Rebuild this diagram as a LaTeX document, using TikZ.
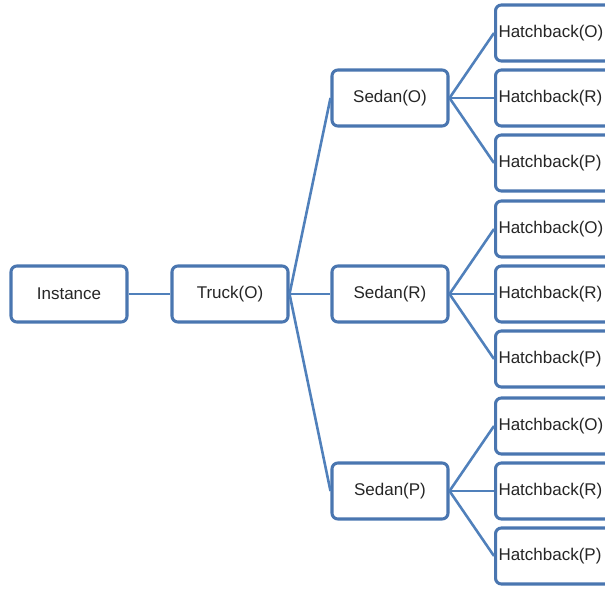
\documentclass[tikz,border=0pt]{standalone}
\usepackage{fontspec}
\setmainfont{Liberation Sans}
\definecolor{boxblue}{HTML}{4A76B0}
\definecolor{linkblue}{HTML}{5080BB}
\definecolor{txt}{HTML}{262626}
\tikzset{
  box/.style={draw=boxblue, line width=2.6pt, rounded corners=5pt, fill=white,
    minimum width=3.48cm, minimum height=1.68cm, text=txt,
    font=\fontsize{14.5}{17}\selectfont},
  hatch/.style={box, text width=3.3cm, inner xsep=0.09cm, align=left},
  link/.style={draw=linkblue, line width=2.2pt}
}
\begin{document}
\begin{tikzpicture}[x=0.03cm, y=-0.03cm]
        \path[use as bounding box, clip] (0,0) rectangle (605,592);
        % left part
        \node[box] (inst) at (69,294) {Instance};
        \node[box] (truck) at (230,294) {Truck(O)};
        \node[box] (sedanO) at (390,98) {Sedan(O)};
        \node[box] (sedanR) at (390,294) {Sedan(R)};
        \node[box] (sedanP) at (390,491) {Sedan(P)};
        % hatchbacks
        \node[hatch, anchor=west] (hbOO) at (494,33) {Hatchback(O)};
        \node[hatch, anchor=west] (hbOR) at (494,98) {Hatchback(R)};
        \node[hatch, anchor=west] (hbOP) at (494,163) {Hatchback(P)};
        \node[hatch, anchor=west] (hbRO) at (494,229) {Hatchback(O)};
        \node[hatch, anchor=west] (hbRR) at (494,294) {Hatchback(R)};
        \node[hatch, anchor=west] (hbRP) at (494,359) {Hatchback(P)};
        \node[hatch, anchor=west] (hbPO) at (494,426) {Hatchback(O)};
        \node[hatch, anchor=west] (hbPR) at (494,491) {Hatchback(R)};
        \node[hatch, anchor=west] (hbPP) at (494,556) {Hatchback(P)};
        % connectors
        \draw[link] (inst) -- (truck);
        \draw[link] (truck.east) -- (sedanO.west);
        \draw[link] (truck.east) -- (sedanR.west);
        \draw[link] (truck.east) -- (sedanP.west);
        \draw[link] (sedanO.east) -- (hbOO.west);
        \draw[link] (sedanO.east) -- (hbOR.west);
        \draw[link] (sedanO.east) -- (hbOP.west);
        \draw[link] (sedanR.east) -- (hbRO.west);
        \draw[link] (sedanR.east) -- (hbRR.west);
        \draw[link] (sedanR.east) -- (hbRP.west);
        \draw[link] (sedanP.east) -- (hbPO.west);
        \draw[link] (sedanP.east) -- (hbPR.west);
        \draw[link] (sedanP.east) -- (hbPP.west);
    \end{tikzpicture}
\end{document}
